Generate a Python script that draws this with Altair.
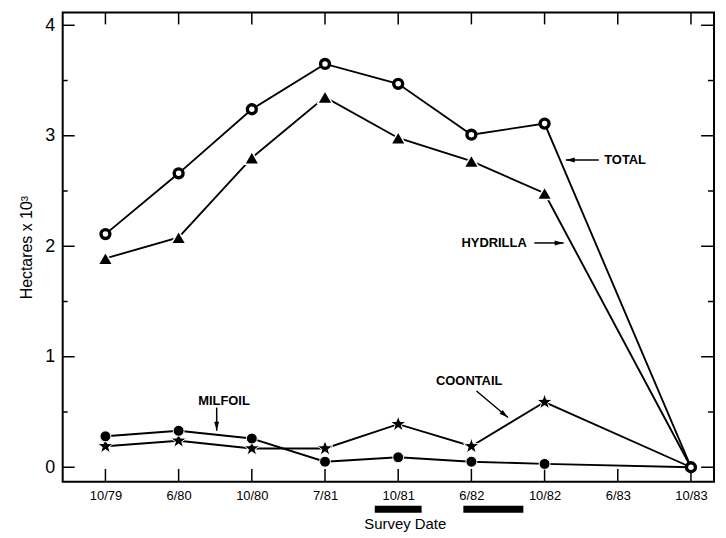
import altair as alt
import pandas as pd

# ---------------- data ----------------
dates = ["10/79", "6/80", "10/80", "7/81", "10/81", "6/82", "10/82", "6/83", "10/83"]
survey_idx = [0, 1, 2, 3, 4, 5, 6, 8]
total = [2.11, 2.66, 3.24, 3.65, 3.47, 3.01, 3.11, 0.0]
hydrilla = [1.89, 2.08, 2.80, 3.35, 2.98, 2.77, 2.48, 0.0]
milfoil = [0.28, 0.33, 0.26, 0.05, 0.09, 0.05, 0.03, 0.0]
coontail = [0.19, 0.24, 0.17, 0.17, 0.39, 0.19, 0.59, 0.0]

label_text = ["TOTAL", "HYDRILLA", "MILFOIL", "COONTAIL"]
label_x = [7.10, 5.31, 1.62, 4.97]
label_y = [2.78, 2.03, 0.60, 0.78]
arrow_x1 = [6.74, 5.86, 1.52, 5.07]
arrow_y1 = [2.78, 2.03, 0.54, 0.69]
arrow_x2 = [6.29, 6.26, 1.52, 5.50]
arrow_y2 = [2.78, 2.03, 0.33, 0.45]
arrow_angle = [180, 0, 90, 40]

bar_start = [3.68, 4.89]
bar_end = [4.32, 5.71]

y_major = [0, 1, 2, 3, 4]
y_minor = [0.5, 1.5, 2.5, 3.5]
x_ticks = list(range(len(dates)))

FONT = "Liberation Sans"
W, H = 655, 472

# ---------------- frames ----------------
series = {"TOTAL": total, "HYDRILLA": hydrilla, "MILFOIL": milfoil, "COONTAIL": coontail}
rows = []
for name, vals in series.items():
    for i, v in zip(survey_idx, vals):
        rows.append({"series": name, "idx": i, "val": v})
df = pd.DataFrame(rows)

ann = pd.DataFrame({"text": label_text, "idx": label_x, "val": label_y})
arr = pd.DataFrame({"idx": arrow_x1, "val": arrow_y1, "idx2": arrow_x2,
                    "val2": arrow_y2, "angle": arrow_angle})
heads = pd.DataFrame({"idx": arrow_x2, "val": arrow_y2, "angle": arrow_angle})
bars = pd.DataFrame({"idx": bar_start, "idx2": bar_end})
ymaj = pd.DataFrame({"val": y_major})
ymin = pd.DataFrame({"val": y_minor})
xt = pd.DataFrame({"idx": x_ticks})

xs = alt.Scale(domain=[-0.584, 8.315], nice=False, zero=False)
ys = alt.Scale(domain=[-0.132, 4.116], nice=False, zero=False)

label_js = "[" + ",".join("'" + d + "'" for d in dates) + "]"
xaxis = alt.Axis(values=x_ticks, labelExpr=label_js + "[datum.value]", ticks=False,
                 domain=False, grid=False, labelFont=FONT, labelFontSize=13,
                 labelColor="black", labelPadding=8, title="Survey Date",
                 titleFont=FONT, titleFontSize=15, titleFontWeight="normal",
                 titleColor="black", titleX=344, titleY=42, titleBaseline="middle",
                 titleAlign="center")
yaxis = alt.Axis(values=y_major, ticks=False, domain=False, grid=False,
                 labelFont=FONT, labelFontSize=18, labelColor="black", labelPadding=8,
                 title="Hectares x 10³", titleFont=FONT, titleFontSize=16,
                 titleFontWeight="normal", titleColor="black", titlePadding=10)

X = alt.X("idx:Q", scale=xs, axis=xaxis)
Y = alt.Y("val:Q", scale=ys, axis=yaxis)

lines = alt.Chart(df).mark_line(color="black", strokeWidth=1.9).encode(
    x=X, y=Y, detail="series:N", order="idx:Q")

star = ("M0,-1L0.235,-0.324L0.951,-0.309L0.380,0.124L0.588,0.809L0,0.4"
        "L-0.588,0.809L-0.380,0.124L-0.951,-0.309L-0.235,-0.324Z")

pts_total = alt.Chart(df[df.series == "TOTAL"]).mark_point(
    shape="circle", filled=True, fill="white", stroke="black", strokeWidth=3.4,
    size=80, opacity=1).encode(x=X, y=Y)
pts_hyd = alt.Chart(df[(df.series == "HYDRILLA") & (df.idx < 8)]).mark_point(
    shape="triangle-up", filled=True, fill="black", stroke="white", strokeWidth=1.5,
    size=220, opacity=1).encode(x=X, y=Y)
pts_mil = alt.Chart(df[(df.series == "MILFOIL") & (df.idx < 8)]).mark_point(
    shape="circle", filled=True, fill="black", stroke="white", strokeWidth=1,
    size=120, opacity=1).encode(x=X, y=Y)
pts_coo = alt.Chart(df[(df.series == "COONTAIL") & (df.idx < 8)]).mark_point(
    shape=star, filled=True, fill="black", stroke="white", strokeWidth=1,
    size=280, opacity=1).encode(x=X, y=Y)

texts = alt.Chart(ann).mark_text(font=FONT, fontSize=13, fontWeight="bold",
                                 color="black", align="center",
                                 baseline="middle").encode(x=X, y=Y, text="text:N")
arrows = alt.Chart(arr).mark_rule(color="black", strokeWidth=1.5).encode(
    x=X, y=Y, x2="idx2:Q", y2="val2:Q")
arrowheads = alt.Chart(heads).mark_point(
    shape="M0,0L-2,-0.55L-2,0.55Z", filled=True, fill="black", strokeWidth=0,
    size=81, opacity=1).encode(x=X, y=Y, angle=alt.Angle("angle:Q", scale=None))

bar_marks = alt.Chart(bars).mark_rect(color="black").encode(
    x=X, x2="idx2:Q", y=alt.value(H + 24), y2=alt.value(H + 31))

tl_major = alt.Chart(ymaj).mark_rule(color="black", strokeWidth=1.5).encode(
    y=Y, x=alt.value(0), x2=alt.value(12))
tl_minor = alt.Chart(ymin).mark_rule(color="black", strokeWidth=1.5).encode(
    y=Y, x=alt.value(0), x2=alt.value(5))
tr_major = alt.Chart(ymaj).mark_rule(color="black", strokeWidth=1.5).encode(
    y=Y, x=alt.value(W), x2=alt.value(W - 13))
tr_minor = alt.Chart(ymin).mark_rule(color="black", strokeWidth=1.5).encode(
    y=Y, x=alt.value(W), x2=alt.value(W - 6))
tt = alt.Chart(xt).mark_rule(color="black", strokeWidth=1.5).encode(
    x=X, y=alt.value(0), y2=alt.value(12))
tb = alt.Chart(xt).mark_rule(color="black", strokeWidth=1.5).encode(
    x=X, y=alt.value(H), y2=alt.value(H - 13))

chart = alt.layer(
    tl_major, tl_minor, tr_major, tr_minor, tt, tb,
    lines, pts_coo, pts_mil, pts_hyd, pts_total,
    arrows, arrowheads, texts, bar_marks
).properties(
    width=W, height=H,
    padding={"left": 55, "top": 3, "right": 4, "bottom": 55},
    autosize=alt.AutoSizeParams(type="none"),
    background="white",
).configure_view(stroke="black", strokeWidth=2)

chart.save("out.html", embed_options={"renderer": "svg", "actions": False})
